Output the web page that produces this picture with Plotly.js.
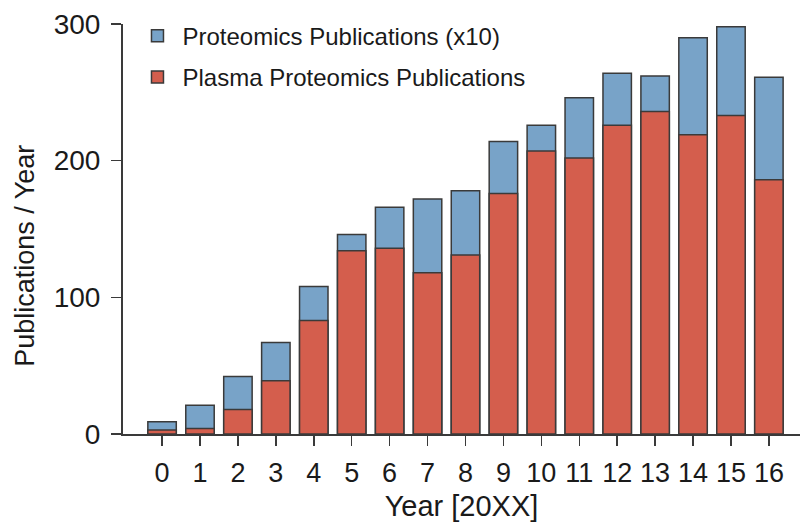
<!DOCTYPE html>
<html>
<head>
<meta charset="utf-8">
<script src="https://cdn.plot.ly/plotly-3.0.1.min.js"></script>
<style>
  html, body { margin: 0; padding: 0; background: #ffffff; }
  #chart { width: 800px; height: 522px; }
</style>
</head>
<body>
<div id="chart"></div>
<script>
// Year offsets (20XX)
const years = [0, 1, 2, 3, 4, 5, 6, 7, 8, 9, 10, 11, 12, 13, 14, 15, 16];
const yearLabels = ["0","1","2","3","4","5","6","7","8","9","10","11","12","13","14","15","16"];
// Proteomics publications (x10)
const proteomics = [9, 21, 42, 67, 108, 146, 166, 172, 178, 214, 226, 246, 264, 262, 290, 298, 261];
// Plasma proteomics publications
const plasma = [3, 4, 18, 39, 83, 134, 136, 118, 131, 176, 207, 202, 226, 236, 219, 233, 186];
const yTicks = [0, 100, 200, 300];
const yTitle = "Publications / Year";
const xTitle = "Year [20XX]";

const FONT = "Liberation Sans, Arial, Helvetica, sans-serif";
const lineCol = "#3a3a3a";

const traces = [
  {
    type: "bar",
    name: "Proteomics Publications (x10)",
    legendgroup: "a",
    x: years,
    y: proteomics,
    width: 0.75,
    marker: { color: "#78a3c8", line: { color: lineCol, width: 1.5 } },
    hoverinfo: "skip"
  },
  {
    type: "bar",
    name: "Plasma Proteomics Publications",
    legendgroup: "b",
    x: years,
    y: plasma,
    width: 0.75,
    marker: { color: "#d45e4d", line: { color: lineCol, width: 1.5 } },
    hoverinfo: "skip"
  }
];

const layout = {
  width: 800,
  height: 522,
  margin: { l: 123, r: 0, t: 24, b: 88, pad: 0 },
  paper_bgcolor: "#ffffff",
  plot_bgcolor: "#ffffff",
  barmode: "overlay",
  font: { family: FONT, color: "#1a1a1a" },
  showlegend: true,
  legend: {
    x: 0.014, y: 1.025, xanchor: "left", yanchor: "top",
    bgcolor: "rgba(0,0,0,0)",
    font: { family: FONT, size: 24, color: "#1a1a1a" },
    itemwidth: 40,
    tracegroupgap: 7,
    traceorder: "grouped"
  },
  xaxis: {
    range: [-1.03, 16.82],
    tickmode: "array",
    tickvals: years,
    ticktext: yearLabels,
    ticks: "outside",
    ticklen: 10,
    tickwidth: 1.5,
    tickcolor: lineCol,
    showline: true,
    linecolor: lineCol,
    linewidth: 2,
    showgrid: false,
    zeroline: false,
    tickfont: { family: FONT, size: 27, color: "#1a1a1a" },
    ticklabelstandoff: 4,
    title: { text: xTitle, font: { family: FONT, size: 29, color: "#1a1a1a" }, standoff: 8 },
    fixedrange: true
  },
  yaxis: {
    range: [0, 300],
    tickmode: "array",
    tickvals: yTicks,
    ticktext: yTicks.map(String),
    ticks: "outside",
    ticklen: 10,
    tickwidth: 1.5,
    tickcolor: lineCol,
    showline: true,
    linecolor: lineCol,
    linewidth: 2,
    showgrid: false,
    zeroline: false,
    tickfont: { family: FONT, size: 28, color: "#1a1a1a" },
    ticklabelstandoff: 5,
    fixedrange: true
  },
  annotations: [
    {
      text: yTitle,
      xref: "paper", yref: "paper",
      x: -0.146, y: 0.435,
      xanchor: "center", yanchor: "middle",
      textangle: -90,
      showarrow: false,
      font: { family: FONT, size: 27, color: "#1a1a1a" }
    }
  ]
};

Plotly.newPlot("chart", traces, layout, { displayModeBar: false, staticPlot: true });
</script>
</body>
</html>
